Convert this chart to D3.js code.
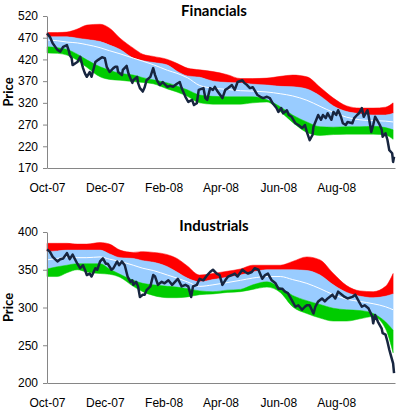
<!DOCTYPE html>
<html>
<head>
<meta charset="utf-8">
<script src="https://cdn.jsdelivr.net/npm/d3@7"></script>
<style>
  body { margin: 0; background: #fff; }
  svg { display: block; font-family: Lato, "Open Sans", sans-serif; }
</style>
</head>
<body>
<div id="chart"></div>
<script>
// day offsets (from 1 Oct 2007) where the band edges were read
const bandDays = [0,11,21,32,42,56,66,77,91,101,112,127,137,148,161,175,190,204,217,232,246,259,274,288,302,316,330,344,357,365];

// Financials bands
const finUpper2 = [482,482,483,490,499,501,492,469,446,432,427,420,411,400,396,392,385,376,376,377,381,384,380,356,331,313,308,308,310,320];
const finUpper1 = [472,472,472,469,466,461,453,443,423,417,413,407,393,382,379,370,367,366,363,361,358,357,352,336,313,300,295,292,292,296];
const finMid    = [465,463,460,458,454,447,440,433,423,416,408,395,388,378,360,354,351,348,347,345,341,336,326,312,298,287,281,279,278,276];
const finLower1 = [449,447,443,432,419,403,395,388,384,378,373,366,359,350,338,335,334,334,334,327,311,292,276,265,264,265,265,266,263,258];
const finLower2 = [435,434,430,418,402,380,374,372,369,367,364,352,345,335,320,317,317,317,320,322,300,275,252,245,247,248,248,248,246,236];

// Industrials bands
const indUpper2 = [385,385,385,384,384,386,384,376,373,374,373,370,365,355,343,345,348,351,356,356,356,361,367,363,345,329,322,321,328,345];
const indUpper1 = [374,375,376,376,376,376,371,366,365,362,360,354,347,339,334,337,340,343,347,350,350,350,349,343,330,320,315,313,315,318];
const indMid    = [363,365,367,366,366,367,364,361,356,352,349,343,339,334,328,330,333,336,339,341,341,337,332,325,317,311,308,305,301,297];
const indLower1 = [351,354,356,358,358,358,351,344,336,332,330,328,327,325,322,321,323,324,330,334,326,316,309,304,299,297,296,292,281,270];
const indLower2 = [341,341,346,350,347,345,344,340,328,321,316,313,313,314,317,318,320,321,324,327,320,301,292,286,282,282,285,288,272,240];

// price [day offset, price]
const finPrice = [[0,480],[3,472],[6,457],[11,442],[14,438],[17,449],[21,453],[23,440],[24,430],[26,423],[27,407],[32,414],[35,426],[38,400],[40,388],[42,380],[45,391],[47,380],[51,414],[54,419],[58,425],[61,423],[63,403],[66,391],[70,400],[72,403],[74,403],[75,391],[79,384],[80,396],[84,405],[86,387],[90,366],[91,372],[95,380],[96,366],[98,354],[101,346],[103,356],[105,372],[109,380],[112,400],[114,384],[116,372],[119,361],[122,368],[127,357],[130,359],[133,357],[137,364],[140,368],[142,354],[146,334],[149,322],[153,327],[155,315],[158,319],[160,350],[165,354],[167,331],[169,327],[172,354],[175,350],[177,357],[180,346],[185,331],[188,350],[191,354],[195,361],[198,350],[201,368],[206,372],[208,366],[211,361],[214,354],[217,356],[222,338],[225,334],[228,331],[232,334],[235,331],[238,319],[242,308],[244,299],[247,308],[249,296],[253,303],[255,292],[258,288],[262,273],[265,269],[269,262],[272,269],[274,253],[277,234],[280,246],[281,265],[284,281],[286,292],[289,281],[291,292],[294,285],[296,296],[300,281],[302,299],[305,292],[307,303],[310,288],[312,273],[315,269],[317,276],[322,273],[324,285],[327,292],[329,296],[332,308],[334,288],[338,303],[339,292],[342,253],[344,269],[346,288],[348,281],[351,269],[353,258],[354,242],[357,250],[359,235],[361,211],[364,204],[365,184],[366,196]];

const indPrice = [[0,377],[3,374],[6,367],[11,361],[14,364],[17,365],[21,372],[24,364],[27,370],[32,358],[35,352],[38,356],[40,350],[42,343],[45,345],[47,341],[51,352],[53,350],[56,361],[59,365],[62,358],[64,358],[68,350],[70,352],[74,361],[76,356],[79,361],[82,356],[85,341],[88,334],[90,336],[91,330],[94,334],[96,328],[98,314],[101,317],[103,317],[105,323],[109,328],[112,343],[114,341],[117,330],[121,334],[124,332],[128,336],[132,330],[135,334],[138,338],[142,328],[146,330],[149,328],[152,314],[154,328],[158,330],[161,338],[165,336],[169,343],[172,347],[175,350],[179,345],[182,343],[185,330],[188,336],[191,341],[195,343],[198,345],[201,341],[206,350],[209,347],[212,345],[216,347],[219,352],[223,350],[227,338],[230,343],[233,345],[237,336],[241,332],[244,325],[248,325],[251,321],[254,319],[258,310],[262,301],[265,303],[269,297],[272,301],[274,303],[277,303],[281,292],[283,301],[286,308],[290,312],[293,308],[296,312],[301,317],[304,312],[307,321],[311,317],[314,314],[317,312],[322,314],[325,317],[328,310],[332,301],[335,303],[339,299],[343,288],[344,279],[346,290],[349,281],[353,272],[354,266],[357,264],[359,255],[361,244],[363,235],[365,226],[366,213]];

const finTicks = [170,220,270,320,370,420,470,520];
const indTicks = [200,250,300,350,400];
const monthTicks = ["2007-10-01","2007-12-01","2008-02-01","2008-04-01","2008-06-01","2008-08-01"];

const W = 400, H = 413;
const start = new Date(2007, 9, 1);
const day = d => d3.timeDay.offset(start, d);

const svg = d3.select("#chart").append("svg")
  .attr("width", W).attr("height", H);

const x = d3.scaleTime()
  .domain([start, day(367)])
  .range([47, 395]);

const parse = d3.timeParse("%Y-%m-%d");

function drawPanel(p) {
  const y = d3.scaleLinear().domain(p.domain).range([p.bottom, p.top]);
  const g = svg.append("g");

  const rows = bandDays.map((d, i) => ({
    date: day(d), u2: p.u2[i], u1: p.u1[i], m: p.mid[i], l1: p.l1[i], l2: p.l2[i]
  }));

  const band = (a, b) => d3.area()
    .x(d => x(d.date))
    .y0(d => y(d[a]))
    .y1(d => y(d[b]))
    .curve(d3.curveMonotoneX);

  g.append("path").datum(rows).attr("d", band("u1", "u2"))
    .attr("fill", "#ff0000").attr("stroke", "#ff0000").attr("stroke-width", 0.5);
  g.append("path").datum(rows).attr("d", band("l1", "u1"))
    .attr("fill", "#99ccff").attr("stroke", "#99ccff").attr("stroke-width", 0.5);
  g.append("path").datum(rows).attr("d", band("l2", "l1"))
    .attr("fill", "#00cc00").attr("stroke", "#00cc00").attr("stroke-width", 0.5);

  g.append("path").datum(rows)
    .attr("d", d3.line().x(d => x(d.date)).y(d => y(d.m)).curve(d3.curveMonotoneX))
    .attr("fill", "none").attr("stroke", "#ffffff").attr("stroke-width", 1);

  // axes
  const ya = g.append("g").attr("transform", "translate(47,0)")
    .call(d3.axisLeft(y).tickValues(p.ticks).tickSize(4).tickSizeOuter(0).tickPadding(5));
  ya.select(".domain").attr("stroke", "#868686");
  ya.selectAll(".tick line").attr("stroke", "#868686");
  ya.selectAll("text").attr("font-size", 12).attr("fill", "#000");

  const xa = g.append("g").attr("transform", `translate(0,${p.bottom})`)
    .call(d3.axisBottom(x).tickValues(monthTicks.map(parse))
      .tickFormat(d3.timeFormat("%b-%y")).tickSize(0).tickPadding(15));
  xa.select(".domain").attr("stroke", "#868686");
  xa.selectAll("text").attr("font-size", 12).attr("fill", "#000");

  g.append("path").datum(p.price)
    .attr("d", d3.line().x(d => x(day(d[0]))).y(d => y(d[1])))
    .attr("fill", "none").attr("stroke", "#17253f").attr("stroke-width", 2.5)
    .attr("stroke-linejoin", "round");

  g.append("text").attr("x", 214).attr("y", p.titleY)
    .attr("text-anchor", "middle").attr("font-weight", "bold").attr("font-size", 15)
    .text(p.title);

  g.append("text")
    .attr("transform", `translate(13,${(p.top + p.bottom) / 2}) rotate(-90)`)
    .attr("text-anchor", "middle").attr("font-weight", "bold").attr("font-size", 13)
    .text("Price");
}

drawPanel({
  title: "Financials", titleY: 16, domain: [170, 520], ticks: finTicks,
  top: 16, bottom: 168,
  u2: finUpper2, u1: finUpper1, mid: finMid, l1: finLower1, l2: finLower2, price: finPrice
});

drawPanel({
  title: "Industrials", titleY: 231, domain: [200, 400], ticks: indTicks,
  top: 232, bottom: 383,
  u2: indUpper2, u1: indUpper1, mid: indMid, l1: indLower1, l2: indLower2, price: indPrice
});
</script>
</body>
</html>
